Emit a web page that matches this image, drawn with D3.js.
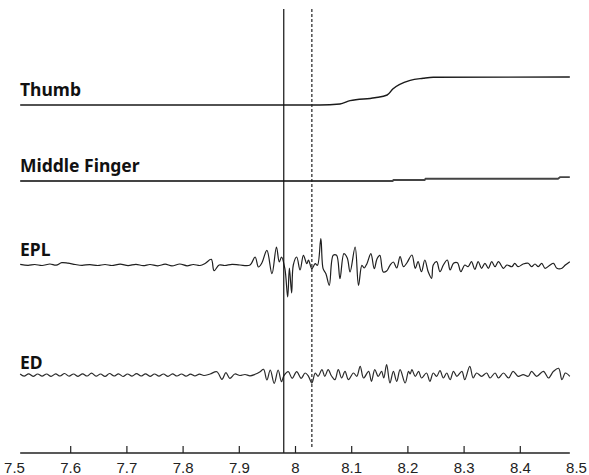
<!DOCTYPE html>
<html>
<head>
<meta charset="utf-8">
<script src="https://cdn.jsdelivr.net/npm/d3@7"></script>
<style>
  body { margin: 0; background: #fff; }
  svg { display: block; }
</style>
</head>
<body>
<div id="chart"></div>
<script>
// Thumb / middle finger kinematics and EPL / ED EMG around movement onset

const tickValues = [7.5, 7.6, 7.7, 7.8, 7.9, 8, 8.1, 8.2, 8.3, 8.4, 8.5];
const tStart = 7.511, tEnd = 8.489;
const onsetEMG = 7.98;      // solid marker
const onsetMove = 8.03;     // dashed marker

// Thumb angle (normalised), [time, value]
const thumb = [
    [7.511, 0], [8.044, 0], [8.080, 0.036], [8.098, 0.154], [8.142, 0.26],
    [8.164, 0.357], [8.174, 0.571], [8.205, 0.882], [8.228, 0.954],
    [8.246, 0.99], [8.489, 1]
];

// Middle finger (normalised)
const middle = [
    [7.511, 0], [8.174, 0], [8.175, 0.036], [8.231, 0.036], [8.232, 0.08],
    [8.468, 0.08], [8.472, 0.14], [8.489, 0.14]
];

// EPL EMG (mV)
const epl = [
    [7.511, 0.07], [7.525, -0.03], [7.537, 0.05], [7.550, -0.05], [7.564, 0.1],
    [7.575, -0.02], [7.585, 0.23], [7.596, 0.18], [7.609, 0.05], [7.621, -0.03],
    [7.635, 0.04], [7.649, -0.05], [7.662, 0.05], [7.674, -0.05], [7.689, 0.08],
    [7.703, -0.06], [7.717, 0.07], [7.730, -0.06], [7.742, 0.05], [7.756, -0.08],
    [7.769, 0.08], [7.781, -0.09], [7.795, 0.1], [7.808, -0.08], [7.819, 0.05],
    [7.831, -0.05], [7.840, 0.15], [7.851, 0.57], [7.856, -0.57], [7.865, 0],
    [7.875, -0.05], [7.888, 0.07], [7.902, 0], [7.920, 0], [7.929, 0.8],
    [7.935, -0.2], [7.941, 0.2], [7.950, 1.47], [7.959, -0.87], [7.967, 1.8],
    [7.972, 0.3], [7.976, 0.8], [7.982, -0.37], [7.987, -3.2], [7.990, -0.3],
    [7.994, -2.8], [7.997, 0], [8.003, 0.8], [8.009, -0.5], [8.015, 0.97],
    [8.021, 0.13], [8.024, 0.5], [8.030, -0.37], [8.036, 0.13], [8.040, -0.03],
    [8.046, 2.63], [8.050, -0.37], [8.055, -0.87], [8.061, -2.03], [8.068, 0.97],
    [8.074, 0.97], [8.080, -1.37], [8.087, 1.13], [8.093, 0.7], [8.098, -0.7],
    [8.107, 1.8], [8.113, -2.03], [8.119, -0.03], [8.123, -0.3], [8.128, 0.13],
    [8.135, 1.13], [8.141, -0.37], [8.146, 0.63], [8.151, 0.97], [8.157, -0.7],
    [8.163, -0.6], [8.169, -0.03], [8.175, 0.3], [8.181, -0.3], [8.187, 0.83],
    [8.193, -0.17], [8.199, 0.2], [8.208, 1.0], [8.214, -0.33], [8.219, 0.33],
    [8.225, -0.67], [8.231, 0.5], [8.237, -0.67], [8.243, -1.33], [8.246, 0],
    [8.252, 0.33], [8.258, -0.67], [8.264, 0], [8.271, 0.5], [8.276, -0.5],
    [8.282, 0.17], [8.289, 0.23], [8.295, -0.67], [8.302, 0], [8.308, -0.17],
    [8.314, 0.33], [8.320, -0.43], [8.326, 0.33], [8.332, -0.33], [8.338, 0.17],
    [8.344, -0.33], [8.350, 0.33], [8.356, -0.17], [8.362, 0.33], [8.371, -0.33],
    [8.377, 0], [8.386, -0.17], [8.391, 0.17], [8.397, -0.17], [8.406, 0.1],
    [8.415, 0.17], [8.421, -0.17], [8.427, 0.1], [8.433, -0.17], [8.439, 0.17],
    [8.445, -0.33], [8.454, 0], [8.460, 0.17], [8.466, -0.33], [8.475, -0.33],
    [8.481, 0], [8.489, 0.33]
];

// ED EMG (mV)
const ed = [
    [7.511, 0.1], [7.518, -0.12], [7.526, 0.12], [7.534, -0.13], [7.542, 0.1],
    [7.550, -0.12], [7.558, 0.1], [7.566, -0.14], [7.574, 0.12], [7.582, -0.1],
    [7.590, 0.15], [7.598, -0.12], [7.606, 0.1], [7.614, -0.13], [7.622, 0.12],
    [7.630, -0.1], [7.638, 0.18], [7.646, -0.12], [7.654, 0.1], [7.662, -0.14],
    [7.670, 0.15], [7.678, -0.1], [7.686, 0.12], [7.694, -0.15], [7.702, 0.1],
    [7.710, -0.12], [7.718, 0.14], [7.726, -0.1], [7.734, 0.12], [7.742, -0.13],
    [7.750, 0.1], [7.758, -0.12], [7.766, 0.1], [7.774, -0.14], [7.782, 0.12],
    [7.790, -0.1], [7.798, 0.1], [7.806, -0.12], [7.814, 0.08], [7.822, -0.1],
    [7.830, 0.08], [7.838, -0.05], [7.849, 0.1], [7.861, 0.33], [7.870, -0.43],
    [7.877, 0.23], [7.884, -0.33], [7.893, 0.1], [7.902, -0.05], [7.911, 0.05],
    [7.920, -0.08], [7.929, 0.07], [7.938, 0.33], [7.944, 0.57], [7.950, -0.5],
    [7.956, 0.5], [7.963, -0.83], [7.970, 0.5], [7.976, -0.67], [7.980, -0.1],
    [7.988, 0.33], [7.995, -0.33], [8.003, 0.33], [8.011, -0.33], [8.018, 0.2],
    [8.024, -0.13], [8.030, -0.8], [8.036, 0.2], [8.041, -0.13], [8.048, 0.53],
    [8.053, -0.13], [8.059, 0.53], [8.065, -0.1], [8.071, -0.47], [8.077, 0.53],
    [8.083, -0.3], [8.089, 0.37], [8.095, -0.47], [8.104, 0.2], [8.110, -0.13],
    [8.116, 0.87], [8.122, -0.3], [8.131, 0.37], [8.136, -0.63], [8.142, 0.53],
    [8.148, -0.13], [8.154, 0.37], [8.158, -0.3], [8.163, 1.03], [8.169, -0.8],
    [8.175, 0.37], [8.181, -0.63], [8.187, 0.53], [8.196, -0.8], [8.202, 0.37],
    [8.205, 0.1], [8.208, 0.53], [8.214, -0.13], [8.220, 0.37], [8.225, -0.3],
    [8.234, 0.2], [8.240, -0.63], [8.246, 0.2], [8.252, -0.13], [8.258, 0.43],
    [8.264, -0.3], [8.270, 0.2], [8.276, -0.47], [8.282, 0.37], [8.288, -0.13],
    [8.297, 0.37], [8.302, -0.47], [8.311, 0.87], [8.317, -0.3], [8.323, 0.2],
    [8.332, -0.13], [8.341, 0.2], [8.347, -0.3], [8.356, 0.2], [8.362, -0.3],
    [8.371, 0.2], [8.380, -0.3], [8.388, 0.37], [8.397, -0.13], [8.406, 0.03],
    [8.415, -0.13], [8.421, 0.37], [8.430, -0.13], [8.442, 0.37], [8.451, -0.3],
    [8.460, 0.37], [8.469, 0.67], [8.475, -0.47], [8.481, 0.2], [8.489, -0.13]
];

const smooth = d3.curveCatmullRom.alpha(0.5);

const channels = [
    { name: 'Thumb',         data: thumb,  label: [20, 96],  domain: [0, 1],  range: [105, 77],  stroke: '#1a1a1a', width: 1.4, curve: d3.curveMonotoneX },
    { name: 'Middle Finger', data: middle, label: [20, 172], domain: [0, 1],  range: [181, 153], stroke: '#444',    width: 1.8, curve: d3.curveLinear },
    { name: 'EPL',           data: epl,    label: [20, 256], domain: [-3, 3], range: [295, 235], stroke: '#1f1f1f', width: 1.2, curve: smooth },
    { name: 'ED',            data: ed,     label: [20, 369], domain: [-3, 3], range: [405, 345], stroke: '#2a2a2a', width: 1.2, curve: smooth }
];

const W = 589, H = 475;
const axisY = 453;

const svg = d3.select('#chart')
    .append('svg')
    .attr('width', W)
    .attr('height', H);

const x = d3.scaleLinear()
    .domain([7.5, 8.5])
    .range([14, 576]);

// Traces
channels.forEach(ch => {
    const y = d3.scaleLinear().domain(ch.domain).range(ch.range);
    const line = d3.line()
        .x(d => x(d[0]))
        .y(d => y(d[1]))
        .curve(ch.curve);

    svg.append('path')
        .datum(ch.data)
        .attr('fill', 'none')
        .attr('stroke', ch.stroke)
        .attr('stroke-width', ch.width)
        .attr('stroke-linejoin', 'round')
        .attr('d', line);

    svg.append('text')
        .attr('x', ch.label[0])
        .attr('y', ch.label[1])
        .style('font-family', '"Noto Sans", sans-serif')
        .style('font-size', '17.5px')
        .style('font-weight', 'bold')
        .style('fill', '#111')
        .text(ch.name);
});

// Onset markers
svg.append('line')
    .attr('x1', x(onsetEMG)).attr('x2', x(onsetEMG))
    .attr('y1', 9).attr('y2', axisY)
    .attr('stroke', '#111')
    .attr('stroke-width', 1.2);

svg.append('line')
    .attr('x1', x(onsetMove)).attr('x2', x(onsetMove))
    .attr('y1', 9).attr('y2', axisY - 4)
    .attr('stroke', '#222')
    .attr('stroke-width', 1.2)
    .attr('stroke-dasharray', '3,2');

// X axis
const xAxis = svg.append('g')
    .attr('transform', `translate(0,${axisY})`)
    .call(d3.axisBottom(x)
        .tickValues(tickValues)
        .tickSize(-7)
        .tickPadding(9)
        .tickFormat(d => d3.format('')(d)));

xAxis.select('.domain').remove();
xAxis.selectAll('.tick line')
    .attr('stroke', '#222')
    .attr('stroke-width', 1.2)
    .filter(d => d === 7.5 || d === 8.5)
    .remove();
xAxis.selectAll('.tick text')
    .style('font-family', '"Liberation Sans", Arial, sans-serif')
    .style('font-size', '15px')
    .style('fill', '#222');

svg.append('line')
    .attr('x1', x(tStart)).attr('x2', x(tEnd))
    .attr('y1', axisY).attr('y2', axisY)
    .attr('stroke', '#222')
    .attr('stroke-width', 1.4);
</script>
</body>
</html>
